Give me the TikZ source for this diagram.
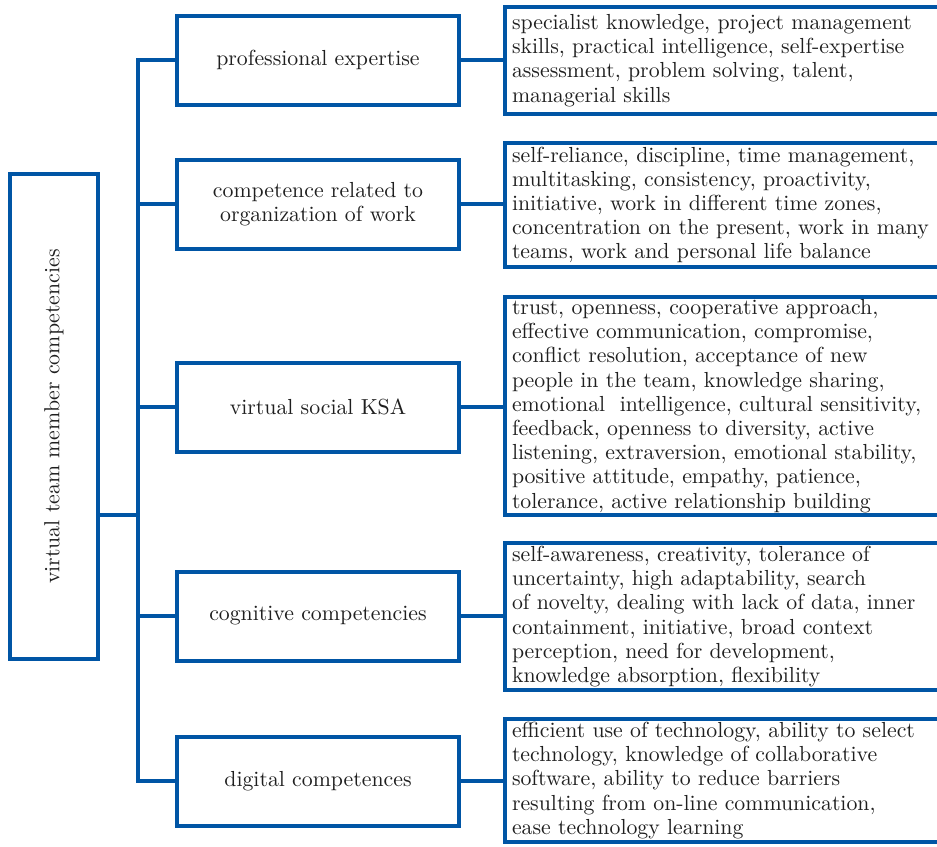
\documentclass[tikz,border=0pt]{standalone}
\usepackage{xcolor}
\definecolor{bl}{RGB}{0,85,165}
\begin{document}
\begin{tikzpicture}[x=0.5pt,y=-0.5pt,
  line width=2pt,
  every node/.style={text=black!88, font=\fontsize{10.9}{12.1}\selectfont},
  mid/.style={draw=bl, line width=2pt, minimum width=141pt, minimum height=44.5pt, align=center, inner sep=0pt},
  det/.style={draw=bl, line width=2pt, anchor=west, text width=240pt, align=left, inner xsep=3.5pt, inner ysep=0pt},
  link/.style={draw=bl, line width=2pt}]
\useasboundingbox (0,0) rectangle (937,846);
\node[draw=bl, line width=2pt, minimum width=44pt, minimum height=242.5pt, inner sep=0pt] (root) at (54,416.5) {};
\node[rotate=90] (rootlbl) at (root.center) {virtual team member competencies};
\node[mid] (m1) at (318,60) {professional expertise};
\node[mid] (m2) at (318,204) {competence related to\\organization of work};
\node[mid] (m3) at (318,407) {virtual social KSA};
\node[mid] (m4) at (318,616) {cognitive competencies};
\node[mid] (m5) at (318,781) {digital competences};
\node[det, minimum height=53.5pt] (r1) at (503,60.5) {specialist knowledge, project management\\skills, practical intelligence, self-expertise\\assessment, problem solving, talent,\\managerial skills};
\node[det, minimum height=62pt] (r2) at (503,205) {self-reliance, discipline, time management,\\multitasking, consistency, proactivity,\\initiative, work in different time zones,\\concentration on the present, work in many\\teams, work and personal life balance};
\node[det, minimum height=109pt] (r3) at (503,406) {trust, openness, cooperative approach,\\effective communication, compromise,\\conflict resolution, acceptance of new\\people in the team, knowledge sharing,\\emotional\ \ intelligence, cultural sensitivity,\\feedback, openness to diversity, active\\listening, extraversion, emotional stability,\\positive attitude, empathy, patience,\\tolerance, active relationship building};
\node[det, minimum height=73.5pt] (r4) at (503,616.5) {self-awareness, creativity, tolerance of\\uncertainty, high adaptability, search\\of novelty, dealing with lack of data, inner\\containment, initiative, broad context\\perception, need for development,\\knowledge absorption, flexibility};
\node[det, minimum height=61.5pt] (r5) at (503,780.5) {efficient use of technology, ability to select\\technology, knowledge of collaborative\\software, ability to reduce barriers\\resulting from on-line communication,\\ease technology learning};
\coordinate (t1) at (138,60);
\coordinate (t5) at (138,781);
\coordinate (tj) at (138,515);
\draw[link] (m1.west) -- (t1) -- (t5) -- (m5.west);
\draw[link] (m2.west -| t1) -- (m2.west);
\draw[link] (m3.west -| t1) -- (m3.west);
\draw[link] (m4.west -| t1) -- (m4.west);
\draw[link] (root.east |- tj) -- (tj);
\draw[link] (m1.east) -- (r1.west |- m1.east);
\draw[link] (m2.east) -- (r2.west |- m2.east);
\draw[link] (m3.east) -- (r3.west |- m3.east);
\draw[link] (m4.east) -- (r4.west |- m4.east);
\draw[link] (m5.east) -- (r5.west |- m5.east);
\end{tikzpicture}
\end{document}
